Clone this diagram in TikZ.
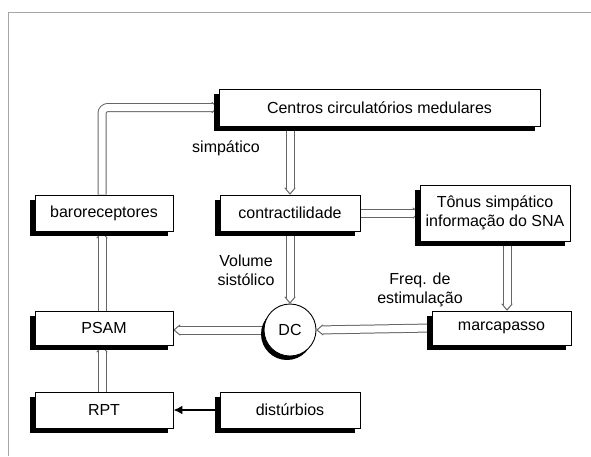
\documentclass[tikz,border=0pt]{standalone}
\usepackage{fontspec}
\setmainfont{Liberation Sans}
\usetikzlibrary{arrows.meta,shadows}
\pgfdeclarelayer{bg}
\pgfsetlayers{bg,main}
\newcommand\hollowconn[1]{%
  \draw[shaftout] #1;
  \draw[shaftin] #1;
  \draw[tipper] #1;}
\begin{document}
\begin{tikzpicture}[x=1pt,y=-1pt,
  font=\fontsize{16}{19}\selectfont,
  box/.style={draw, line width=0.9pt, fill=white, inner sep=2pt, align=center,
    drop shadow={shadow xshift=-5pt, shadow yshift=-5pt, fill=black, opacity=1}},
  circ/.style={circle, draw, line width=0.9pt, fill=white, minimum size=52pt, inner sep=0pt,
    drop shadow={shadow xshift=-3pt, shadow yshift=-4pt, fill=black, opacity=1}},
  shaftout/.style={draw=black!60, line width=9pt, shorten >=6pt, rounded corners=6pt},
  shaftin/.style={draw=white, line width=7pt, shorten >=5.5pt, rounded corners=6pt},
  tipper/.style={draw=white, line width=0.1pt, rounded corners=6pt,
    -{Straight Barb[length=6pt, width=10pt, color=black!60, line width=1pt, round]}},
  solidarrow/.style={line width=2pt, -{Latex[length=9pt, width=9pt]}},
  lbl/.style={align=center, inner sep=0pt}]
\useasboundingbox (0,0) rectangle (591,456);
\draw[black!35, line width=1pt] (8,456) -- (8,12.5) -- (591,12.5);

\node[box, minimum width=321pt, minimum height=37pt] (centros) at (379.5,107.5) {Centros circulatórios medulares};
\node[box, minimum width=140pt, minimum height=36pt] (contr) at (290,213) {contractilidade};
\node[box, minimum width=138pt, minimum height=36pt] (baro) at (104,213) {baroreceptores};
\node[box, minimum width=150pt, minimum height=56pt] (tonus) at (495,213) {Tônus simpático\\informação do SNA};
\node[box, minimum width=138pt, minimum height=34pt] (psam) at (104,328) {PSAM};
\node[circ] (dc) at (290,330) {DC};
\node[box, minimum width=139pt, minimum height=34pt] (marca) at (501.5,328) {marcapasso};
\node[box, minimum width=138pt, minimum height=36pt] (rpt) at (104,410) {RPT};
\node[box, minimum width=140pt, minimum height=36pt] (dist) at (290,410) {distúrbios};

\node[lbl] (l1) at (226,148) {simpático};
\node[lbl] (l2) at (246,270) {Volume\\sistólico};
\node[lbl] (l3) at (420,290) {Freq. de\\estimulação};

\begin{pgfonlayer}{bg}
\fill[white] (0,0) rectangle (591,456);
\hollowconn{([xshift=-2pt]baro.north) |- (centros.west)}
\hollowconn{(centros.south -| contr.north) -- (contr.north)}
\hollowconn{(contr.east) -- (tonus.west |- contr.east)}
\hollowconn{(contr.south) -- (dc.north)}
\hollowconn{([xshift=12pt]tonus.south) -- ([xshift=5.5pt]marca.north)}
\hollowconn{(marca.west) -- (dc.east)}
\hollowconn{(dc.west) -- (psam.east |- dc.west)}
\hollowconn{([xshift=-2pt]psam.north) -- ([xshift=-2pt]baro.south)}
\hollowconn{([xshift=-2pt]rpt.north) -- ([xshift=-2pt]psam.south)}
\end{pgfonlayer}
\draw[solidarrow] (dist.west) -- (rpt.east);
\end{tikzpicture}
\end{document}
